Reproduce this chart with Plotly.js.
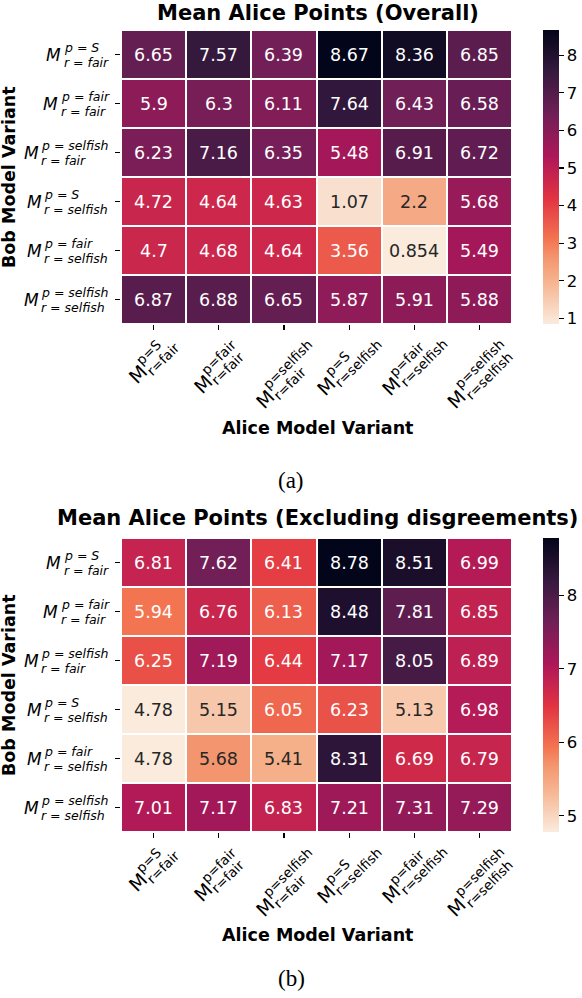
<!DOCTYPE html>
<html>
<head>
<meta charset="utf-8">
<script src="https://cdn.plot.ly/plotly-3.0.1.min.js"></script>
<style>
  body { margin: 0; background: #fff; }
  #chart { width: 582px; height: 998px; }
</style>
</head>
<body>
<div id="chart"></div>
<script>
var W = 582, H = 998;

// model variants, same order on both axes
var variantP = ['S', 'fair', 'selfish', 'S', 'fair', 'selfish'];
var variantR = ['fair', 'fair', 'fair', 'selfish', 'selfish', 'selfish'];

// rows = Bob variant, cols = Alice variant
var overallPoints = [
  [6.65, 7.57, 6.39, 8.67, 8.36, 6.85],
  [5.9, 6.3, 6.11, 7.64, 6.43, 6.58],
  [6.23, 7.16, 6.35, 5.48, 6.91, 6.72],
  [4.72, 4.64, 4.63, 1.07, 2.2, 5.68],
  [4.7, 4.68, 4.64, 3.56, 0.854, 5.49],
  [6.87, 6.88, 6.65, 5.87, 5.91, 5.88],
];

var exclDisagreePoints = [
  [6.81, 7.62, 6.41, 8.78, 8.51, 6.99],
  [5.94, 6.76, 6.13, 8.48, 7.81, 6.85],
  [6.25, 7.19, 6.44, 7.17, 8.05, 6.89],
  [4.78, 5.15, 6.05, 6.23, 5.13, 6.98],
  [4.78, 5.68, 5.41, 8.31, 6.69, 6.79],
  [7.01, 7.17, 6.83, 7.21, 7.31, 7.29],
];

var panelTitles = ['Mean Alice Points (Overall)', 'Mean Alice Points (Excluding disgreements)'];
var captions = ['(a)', '(b)'];
var xTitle = 'Alice Model Variant';
var yTitle = 'Bob Model Variant';

// seaborn rocket_r, roughly
var rocketR = [
  [0, '#faebdd'], [0.143, '#f6b48f'], [0.225, '#f3966f'], [0.286, '#f37651'],
  [0.429, '#e13342'], [0.571, '#ad1759'], [0.714, '#701f57'],
  [0.857, '#35193e'], [1, '#03051a'],
];

var FONT = 'DejaVu Sans';

// pixel box of each panel
var gridLeft = 121, gridRight = 517;
var panels = [
  { top: 30, bottom: 324, titleY: 13, xTitleY: 428, capY: 480 },
  { top: 538, bottom: 832, titleY: 518, xTitleY: 935, capY: 978 },
];

function fx(px) { return px / W; }
function fy(py) { return 1 - py / H; }

var ctx = document.createElement('canvas').getContext('2d');
function textW(str, size, style) {
  ctx.font = style + ' ' + size + 'px "' + FONT + '"';
  return ctx.measureText(str).width;
}

function hexRgb(h) {
  return [parseInt(h.substr(1, 2), 16), parseInt(h.substr(3, 2), 16), parseInt(h.substr(5, 2), 16)];
}

function colorAt(t) {
  for (var i = 1; i < rocketR.length; i++) {
    if (t <= rocketR[i][0]) {
      var a = rocketR[i - 1], b = rocketR[i];
      var f = (t - a[0]) / (b[0] - a[0]);
      var ca = hexRgb(a[1]), cb = hexRgb(b[1]);
      return ca.map(function(v, k) { return v + (cb[k] - v) * f; });
    }
  }
  return hexRgb(rocketR[rocketR.length - 1][1]);
}

// same rule seaborn uses for annotation colour
function textColor(t) {
  var lum = colorAt(t).map(function(v) {
    v = v / 255;
    return v <= 0.03928 ? v / 12.92 : Math.pow((v + 0.055) / 1.055, 2.4);
  });
  var l = 0.2126 * lum[0] + 0.7152 * lum[1] + 0.0722 * lum[2];
  return l > 0.408 ? '#262626' : '#ffffff';
}

function fmt3g(v) {
  var s = v.toPrecision(3);
  if (s.indexOf('.') >= 0) s = s.replace(/0+$/, '').replace(/\.$/, '');
  return s;
}

var cats = variantP.map(function(p, i) { return 'p=' + p + ',r=' + variantR[i]; });

var data = [];
var annotations = [];
var layout = {
  width: W,
  height: H,
  margin: { l: 0, r: 0, t: 0, b: 0 },
  paper_bgcolor: '#fff',
  plot_bgcolor: '#fff',
  showlegend: false,
  font: { family: FONT, color: '#000' },
};

function label(opts) {
  return Object.assign({
    showarrow: false, borderpad: 0, xanchor: 'center', yanchor: 'middle',
  }, opts);
}

[overallPoints, exclDisagreePoints].forEach(function(z, k) {
  var pan = panels[k];
  var xa = k === 0 ? 'x' : 'x2';
  var ya = k === 0 ? 'y' : 'y2';
  var flat = [].concat.apply([], z);
  var zmin = Math.min.apply(null, flat);
  var zmax = Math.max.apply(null, flat);
  var yDom = [fy(pan.bottom), fy(pan.top)];

  data.push({
    type: 'heatmap',
    z: z,
    x: cats,
    y: cats,
    xaxis: xa,
    yaxis: ya,
    colorscale: rocketR,
    zmin: zmin,
    zmax: zmax,
    xgap: 2,
    ygap: 2,
    hoverinfo: 'skip',
    colorbar: {
      x: fx(543), xanchor: 'left', xref: 'paper', xpad: 0,
      y: (yDom[0] + yDom[1]) / 2, yanchor: 'middle', yref: 'paper', ypad: 0,
      len: yDom[1] - yDom[0], lenmode: 'fraction',
      thickness: 16, thicknessmode: 'pixels',
      outlinewidth: 0,
      ticks: 'outside', ticklen: 5, tickwidth: 1.2, tickcolor: '#000',
      dtick: 1,
      tickfont: { family: FONT, size: 16.5, color: '#000' },
    },
  });

  var axBase = {
    type: 'category',
    showgrid: false, zeroline: false, showline: false,
    showticklabels: false,
    ticks: 'outside', ticklen: 5, tickwidth: 1.2, tickcolor: '#000',
    fixedrange: true,
  };
  layout[k === 0 ? 'xaxis' : 'xaxis2'] = Object.assign({}, axBase, {
    domain: [fx(gridLeft), fx(gridRight)], anchor: ya,
  });
  layout[k === 0 ? 'yaxis' : 'yaxis2'] = Object.assign({}, axBase, {
    domain: yDom, anchor: xa, autorange: 'reversed',
  });

  // cell values
  z.forEach(function(row, i) {
    row.forEach(function(v, j) {
      annotations.push(label({
        xref: xa, yref: ya, x: cats[j], y: cats[i],
        text: fmt3g(v),
        font: { family: FONT, size: 17.5, color: textColor((v - zmin) / (zmax - zmin)) },
      }));
    });
  });

  // y tick labels: M with stacked super/subscript
  cats.forEach(function(c, i) {
    var sup = 'p = ' + variantP[i], sub = 'r = ' + variantR[i];
    var wBlock = Math.max(textW(sup, 12.5, 'italic'), textW(sub, 12.5, 'italic'));
    var left = 107 - wBlock;
    annotations.push(label({
      xref: 'paper', x: fx(left - 0.5), xanchor: 'right', yref: ya, y: c,
      text: '<i>M</i>',
      font: { family: FONT, size: 17, color: '#000' },
    }));
    annotations.push(label({
      xref: 'paper', x: fx(left), xanchor: 'left', yref: ya, y: c, yshift: 7.5,
      text: '<i>' + sup + '</i>',
      font: { family: FONT, size: 12.5, color: '#000' },
    }));
    annotations.push(label({
      xref: 'paper', x: fx(left), xanchor: 'left', yref: ya, y: c, yshift: -8,
      text: '<i>' + sub + '</i>',
      font: { family: FONT, size: 12.5, color: '#000' },
    }));
  });

  // x tick labels, rotated 45deg, bbox centred under the tick
  var cs = Math.SQRT1_2;
  cats.forEach(function(c, j) {
    var sup = 'p=' + variantP[j], sub = 'r=' + variantR[j];
    var mW = textW('M', 19, 'normal');
    var pieces = [
      { text: 'M', size: 19, w: mW, u: mW / 2, v: 1 },
      { text: sup, size: 13.5, w: textW(sup, 13.5, 'normal'), v: -7.5 },
      { text: sub, size: 13.5, w: textW(sub, 13.5, 'normal'), v: 7.5 },
    ];
    pieces[1].u = mW + 1 + pieces[1].w / 2;
    pieces[2].u = mW + 1 + pieces[2].w / 2;
    var minX = Infinity, maxX = -Infinity, minY = Infinity;
    pieces.forEach(function(p) {
      p.sx = cs * (p.u + p.v);
      p.sy = cs * (p.v - p.u);
      var e = cs * (p.w + p.size * 0.8) / 2;
      minX = Math.min(minX, p.sx - e);
      maxX = Math.max(maxX, p.sx + e);
      minY = Math.min(minY, p.sy - e);
    });
    var gap = 14;
    pieces.forEach(function(p) {
      annotations.push(label({
        xref: xa, x: c, yref: 'paper', y: yDom[0],
        textangle: -45,
        xshift: p.sx - (minX + maxX) / 2,
        yshift: -(gap + p.sy - minY),
        text: p.text,
        font: { family: FONT, size: p.size, color: '#000' },
      }));
    });
  });

  var midX = fx(318);
  annotations.push(label({
    xref: 'paper', yref: 'paper', x: midX, y: fy(pan.titleY),
    text: panelTitles[k],
    font: { family: FONT, size: 21, weight: 'bold', color: '#000' },
  }));
  annotations.push(label({
    xref: 'paper', yref: 'paper', x: midX, y: fy(pan.xTitleY),
    text: xTitle,
    font: { family: FONT, size: 17.5, weight: 'bold', color: '#000' },
  }));
  annotations.push(label({
    xref: 'paper', yref: 'paper', x: fx(9), y: fy((pan.top + pan.bottom) / 2),
    text: yTitle, textangle: -90,
    font: { family: FONT, size: 17.5, weight: 'bold', color: '#000' },
  }));
  annotations.push(label({
    xref: 'paper', yref: 'paper', x: fx(291), y: fy(pan.capY),
    text: captions[k],
    font: { family: 'Liberation Serif', size: 23, color: '#000' },
  }));
});

layout.annotations = annotations;

Plotly.newPlot('chart', data, layout, { staticPlot: true });
</script>
</body>
</html>
